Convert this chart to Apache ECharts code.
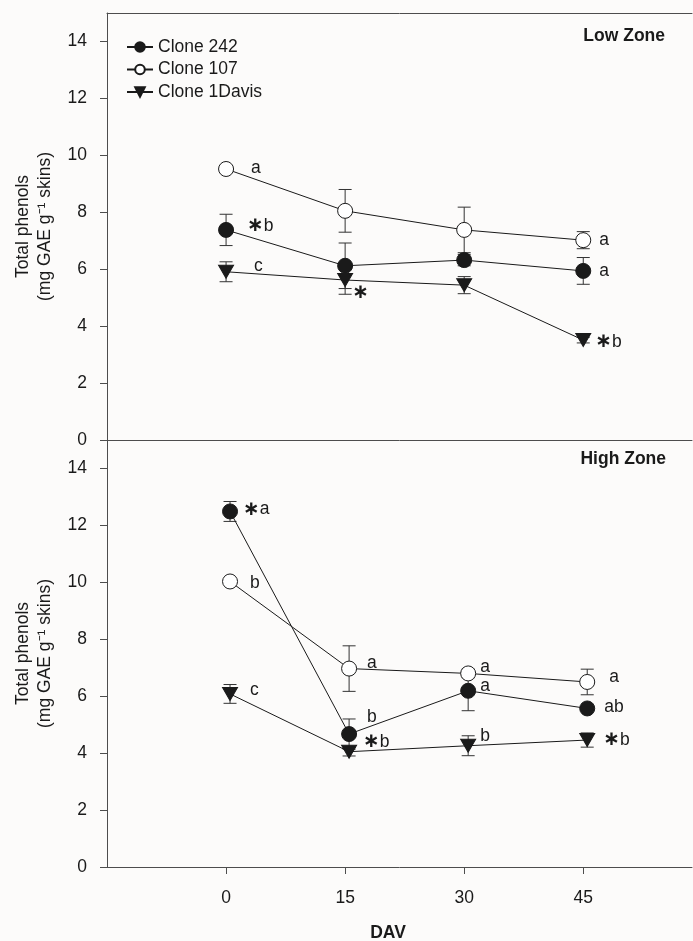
<!DOCTYPE html>
<html>
<head>
<meta charset="utf-8">
<script src="https://cdn.jsdelivr.net/npm/echarts@6/dist/echarts.min.js"></script>
<style>
html,body{margin:0;padding:0;background:#fcfbfa;}
#chart{width:693px;height:941px;}
</style>
</head>
<body>
<div id="chart"></div>
<script>
// ---------- data ----------
const cloneNames = ['Clone 242', 'Clone 107', 'Clone 1Davis'];
const daysLow  = [0, 15, 30, 45];
const daysHigh = [0.5, 15.5, 30.5, 45.5];
const yTicks = [0, 2, 4, 6, 8, 10, 12, 14];
const xTicks = [0, 15, 30, 45];
const panelTitles = ['Low Zone', 'High Zone'];

// Low zone
const low242     = [7.38, 6.12, 6.32, 5.94];
const low242Err  = [0.55, 0.80, 0.20, 0.47];
const low242Tag  = ['*b', '', '', 'a'];
const low107     = [9.52, 8.05, 7.38, 7.02];
const low107Err  = [0.00, 0.75, 0.80, 0.30];
const low107Tag  = ['a', '', '', 'a'];
const low1D      = [5.91, 5.62, 5.44, 3.51];
const low1DErr   = [0.35, 0.50, 0.30, 0.10];
const low1DTag   = ['c', '*', '', '*b'];

// High zone
const high242    = [12.49, 4.67, 6.19, 5.57];
const high242Err = [0.35, 0.53, 0.70, 0.00];
const high242Tag = ['*a', 'b', 'a', 'ab'];
const high107    = [10.03, 6.97, 6.80, 6.50];
const high107Err = [0.00, 0.80, 0.15, 0.45];
const high107Tag = ['b', 'a', 'a', 'a'];
const high1D     = [6.08, 4.05, 4.26, 4.46];
const high1DErr  = [0.33, 0.15, 0.35, 0.25];
const high1DTag  = ['c', '*b', 'b', '*b'];

// ---------- layout / style ----------
const F = 'Arial, "Liberation Sans", sans-serif';
const INK = '#1a1a1a';
const AX = '#4d4d4d';
const FS = 17.5;
const X_MIN = -15, X_MAX = 58.7;

const tagOffsets = {
  low242:  [[21,-4],[0,0],[0,0],[16,0]],
  low107:  [[25,-1],[0,0],[0,0],[16,0]],
  low1D:   [[28,-6],[7,13],[0,0],[12,2]],
  high242: [[13,-2],[18,-17],[12,-5],[17,-1]],
  high107: [[20,2],[18,-5],[12,-6],[22,-5]],
  high1D:  [[20,-4],[14,-10],[12,-10],[16,0]]
};

const styles = [
  {symbol:'circle', size:15, rotate:0, fill:INK},
  {symbol:'circle', size:15, rotate:0, fill:'#ffffff'},
  {symbol:'triangle', size:[15,13], rotate:180, fill:INK}
];

function tagLabel(t, off){
  if(!t) return {show:false};
  return {
    show:true,
    formatter: t.replace('*','{s|∗}'),
    position:'inside', align:'left', verticalAlign:'middle',
    offset: off, color: INK, fontSize: FS, fontFamily: F,
    textBorderWidth: 0,
    rich:{ s:{fontSize:20, fontWeight:'bold', color:INK, fontFamily:'"DejaVu Sans", sans-serif'} }
  };
}

function lineSeries(ci, xs, ys, tags, offs, gi){
  const st = styles[ci];
  return {
    type:'line', name: cloneNames[ci], xAxisIndex: gi, yAxisIndex: gi,
    symbol: st.symbol, symbolSize: st.size, symbolRotate: st.rotate,
    showAllSymbol: true, z: 3, silent: true,
    itemStyle:{color: st.fill, borderColor: INK, borderWidth: 1, opacity: 1},
    lineStyle:{color: INK, width: 1},
    emphasis:{disabled:true},
    data: xs.map((x,i)=>({value:[x, ys[i]], label: tagLabel(tags[i], offs[i])}))
  };
}

function errSeries(gi, xs, groups){
  const data = [];
  groups.forEach(g => {
    g.v.forEach((v,i)=>{ if(g.e[i] > 0) data.push([xs[i], v - g.e[i], v + g.e[i]]); });
  });
  return {
    type:'custom', xAxisIndex: gi, yAxisIndex: gi, z: 2, silent: true,
    renderItem: function(params, api){
      const x = api.value(0);
      const p1 = api.coord([x, api.value(2)]);
      const p2 = api.coord([x, api.value(1)]);
      const w = 6.5;
      const s = {stroke: '#333', lineWidth: 1};
      return {type:'group', children:[
        {type:'line', shape:{x1:p1[0], y1:p1[1], x2:p2[0], y2:p2[1]}, style:s},
        {type:'line', shape:{x1:p1[0]-w, y1:p1[1], x2:p1[0]+w, y2:p1[1]}, style:s},
        {type:'line', shape:{x1:p2[0]-w, y1:p2[1], x2:p2[0]+w, y2:p2[1]}, style:s}
      ]};
    },
    data: data
  };
}

const yName = 'Total phenols\n(mg GAE g⁻¹ skins)';

function yAxis(gi){
  return {
    type:'value', gridIndex: gi, min: 0, max: 15, position:'left',
    name: yName, nameLocation:'middle', nameGap: 50, nameRotate: 90,
    nameTextStyle:{fontSize: FS, fontFamily: F, color: INK, lineHeight: 22},
    axisLine:{show:true, onZero:false, lineStyle:{color:AX, width:1}},
    axisTick:{show:true, inside:false, length:7, lineStyle:{color:AX}, customValues: yTicks},
    axisLabel:{fontSize: FS, fontFamily: F, color: INK, margin: 20, customValues: yTicks},
    splitLine:{show:false}
  };
}
function xAxis(gi, showLabels, pos){
  return {
    type:'value', gridIndex: gi, min: X_MIN, max: X_MAX, position: pos,
    axisLine:{show:true, onZero:false, lineStyle:{color:AX, width:1}},
    axisTick:{show: showLabels, length:7, lineStyle:{color:AX}, customValues: xTicks},
    axisLabel:{show: showLabels, fontSize: FS, fontFamily: F, color: INK, margin: 22, customValues: xTicks},
    splitLine:{show:false}
  };
}

const option = {
  backgroundColor:'#fcfbfa',
  animation:false,
  grid:[
    {left:107, top:13, right:1, height:427},
    {left:107, top:440, right:1, height:427}
  ],
  xAxis:[xAxis(0,false,'bottom'), xAxis(1,true,'bottom'), xAxis(0,false,'top')],
  yAxis:[yAxis(0), yAxis(1)],
  legend:{
    data: cloneNames, orient:'vertical', left:126, top:38, padding:0, selectedMode:false,
    itemWidth:26, itemHeight:12, itemGap:4.5,
    textStyle:{fontSize: FS, fontFamily: F, color: INK, lineHeight: 18}
  },
  graphic:[
    {type:'text', x:665, y:36, style:{text: panelTitles[0], font:'bold ' + FS + 'px ' + F, fill: INK, align:'right', verticalAlign:'middle'}},
    {type:'text', x:666, y:459, style:{text: panelTitles[1], font:'bold ' + FS + 'px ' + F, fill: INK, align:'right', verticalAlign:'middle'}},
    {type:'text', x:388, y:933, style:{text:'DAV', font:'bold ' + FS + 'px ' + F, fill: INK, align:'center', verticalAlign:'middle'}}
  ],
  series:[
    errSeries(0, daysLow, [{v:low242,e:low242Err},{v:low107,e:low107Err},{v:low1D,e:low1DErr}]),
    errSeries(1, daysHigh, [{v:high242,e:high242Err},{v:high107,e:high107Err},{v:high1D,e:high1DErr}]),
    lineSeries(0, daysLow, low242, low242Tag, tagOffsets.low242, 0),
    lineSeries(1, daysLow, low107, low107Tag, tagOffsets.low107, 0),
    lineSeries(2, daysLow, low1D, low1DTag, tagOffsets.low1D, 0),
    lineSeries(0, daysHigh, high242, high242Tag, tagOffsets.high242, 1),
    lineSeries(1, daysHigh, high107, high107Tag, tagOffsets.high107, 1),
    lineSeries(2, daysHigh, high1D, high1DTag, tagOffsets.high1D, 1)
  ]
};

const chart = echarts.init(document.getElementById('chart'), null, {renderer:'canvas'});
chart.setOption(option);
</script>
</body>
</html>
